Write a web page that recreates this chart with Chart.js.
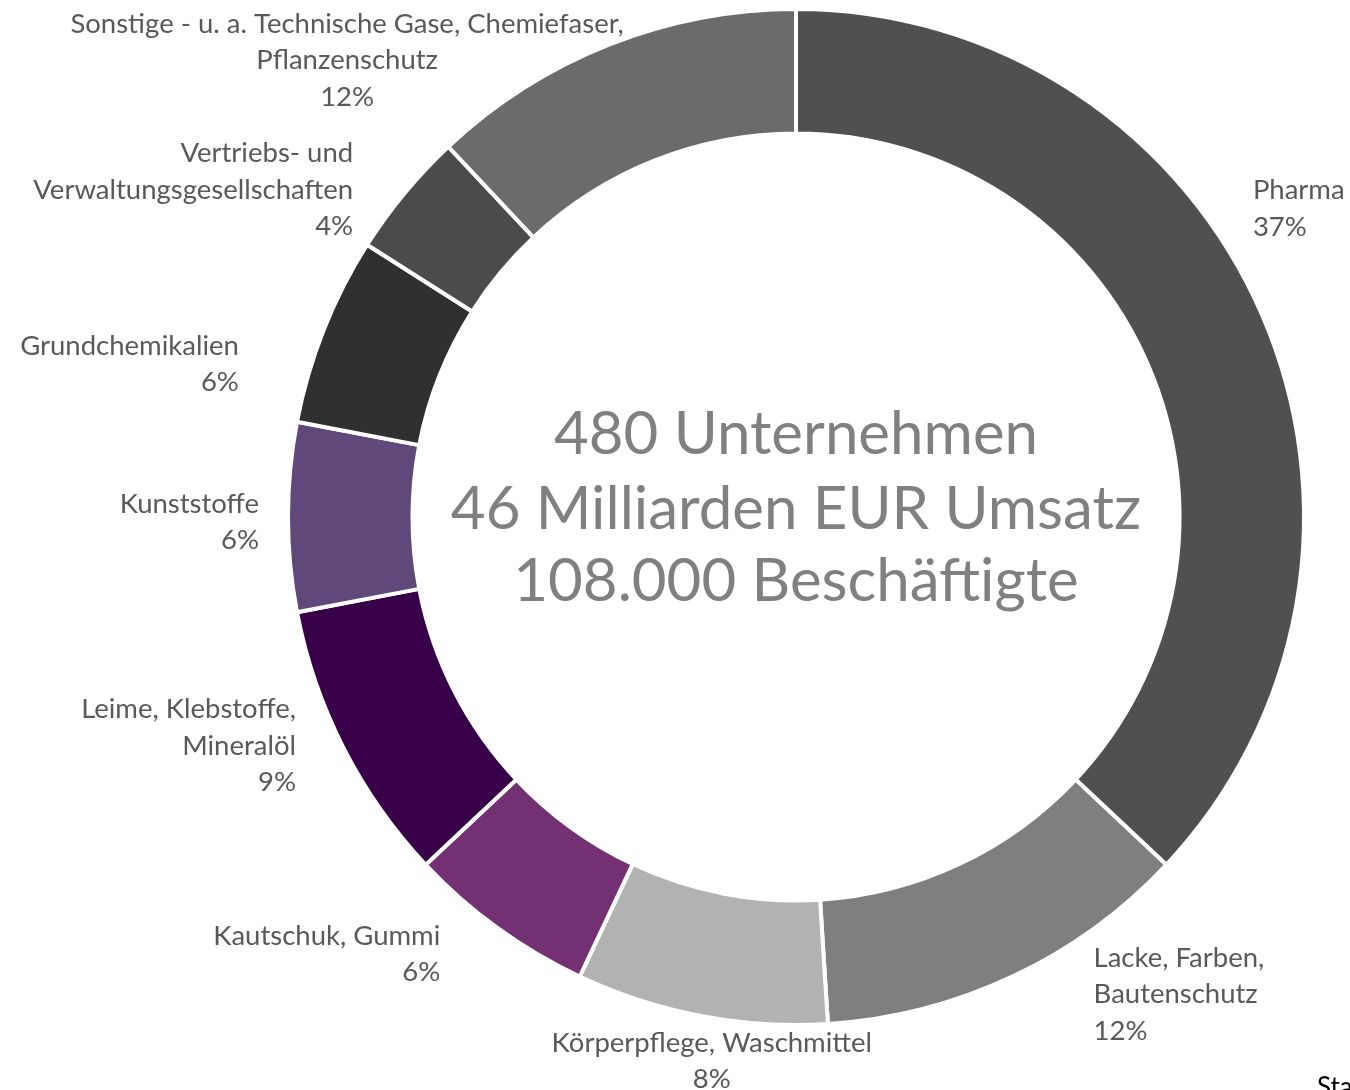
<!DOCTYPE html>
<html>
<head>
<meta charset="utf-8">
<script src="https://cdn.jsdelivr.net/npm/chart.js@4.4.1/dist/chart.umd.min.js"></script>
<style>
html,body{margin:0;padding:0;background:#fff;}
#wrap{width:1350px;height:1090px;position:relative;}
</style>
</head>
<body>
<div id="wrap"><canvas id="c" width="1350" height="1090"></canvas></div>
<script>
const categories = [
  ["Pharma"],
  ["Lacke, Farben,", "Bautenschutz"],
  ["Körperpflege, Waschmittel"],
  ["Kautschuk, Gummi"],
  ["Leime, Klebstoffe,", "Mineralöl"],
  ["Kunststoffe"],
  ["Grundchemikalien"],
  ["Vertriebs- und", "Verwaltungsgesellschaften"],
  ["Sonstige - u. a. Technische Gase, Chemiefaser,", "Pflanzenschutz"]
];
const shares = [37, 12, 8, 6, 9, 6, 6, 4, 12];
const colors = ["#505050", "#7f7f7f", "#b2b2b2", "#733174", "#380048", "#61487b", "#303030", "#4b4b4b", "#6b6b6b"];
const centerLines = ["480 Unternehmen", "46 Milliarden EUR Umsatz", "108.000 Beschäftigte"];
const sourceNote = "Stand";

// label placement relative to the ring centre, in px at a reference outer radius of 507
const labelLayout = [
  {dx: 456, dy: -326, align: "left"},
  {dx: 297, dy: 440, align: "left"},
  {dx: -84, dy: 525, align: "center"},
  {dx: -355, dy: 418, align: "right"},
  {dx: -499, dy: 192, align: "right"},
  {dx: -536, dy: -13, align: "right"},
  {dx: -556, dy: -171, align: "right"},
  {dx: -442, dy: -363, align: "right"},
  {dx: -448, dy: -492, align: "center"}
];
const LH = 36.5;
const FONT = "Lato, 'Open Sans', sans-serif";

const labelPlugin = {
  id: "labels",
  afterDraw(chart) {
    const ctx = chart.ctx;
    const arcs = chart.getDatasetMeta(0).data;
    if (!arcs.length) return;
    const cx = arcs[0].x, cy = arcs[0].y, R = arcs[0].outerRadius;
    const s = R / 507;
    ctx.save();
    ctx.fillStyle = "#595959";
    ctx.font = "27.5px " + FONT;
    ctx.textBaseline = "middle";
    arcs.forEach((a, i) => {
      const L = labelLayout[i];
      const lines = categories[i].concat([shares[i] + "%"]);
      ctx.textAlign = L.align;
      lines.forEach((t, k) => {
        ctx.fillText(t, cx + L.dx * s, cy + L.dy * s + k * LH);
      });
    });
    // centre text
    ctx.fillStyle = "#808080";
    ctx.font = "60px " + FONT;
    ctx.textAlign = "center";
    const offs = [-82, -7, 65];
    centerLines.forEach((t, k) => ctx.fillText(t, cx, cy + offs[k]));
    // clipped source note
    ctx.fillStyle = "#000";
    ctx.font = "26px " + FONT;
    ctx.textAlign = "left";
    ctx.textBaseline = "top";
    ctx.fillText(sourceNote, 1317, 1075);
    ctx.restore();
  }
};

new Chart(document.getElementById("c"), {
  type: "doughnut",
  data: {
    labels: categories.map(c => c.join(" ")),
    datasets: [{
      data: shares,
      backgroundColor: colors,
      borderColor: "#ffffff",
      borderWidth: 4,
      hoverOffset: 0
    }]
  },
  options: {
    responsive: false,
    animation: false,
    cutout: "75.5%",
    rotation: 0,
    layout: {padding: {left: 286, right: 44, top: 7, bottom: 63}},
    plugins: {legend: {display: false}, tooltip: {enabled: false}}
  },
  plugins: [labelPlugin]
});
</script>
</body>
</html>
